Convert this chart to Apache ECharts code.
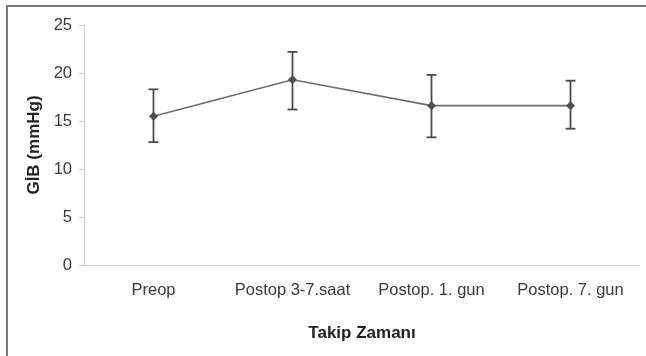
<!DOCTYPE html>
<html><head><meta charset="utf-8">
<script src="https://cdn.jsdelivr.net/npm/echarts@6/dist/echarts.min.js"></script>
<style>html,body{margin:0;padding:0;background:#fff}#c{width:646px;height:356px}</style>
</head><body><div id="c"></div>
<script>
var categories = ['Preop', 'Postop 3-7.saat', 'Postop. 1. gun', 'Postop. 7. gun'];
var means = [15.5, 19.3, 16.6, 16.6];
var upper = [18.3, 22.2, 19.8, 19.2];
var lower = [12.8, 16.2, 13.3, 14.2];
var yTicks = [0, 5, 10, 15, 20, 25];

var errData = categories.map(function (c, i) { return [i, lower[i], upper[i]]; });
var chart = echarts.init(document.getElementById('c'), null, {renderer: 'canvas'});
chart.setOption({
  animation: false,
  backgroundColor: '#fff',
  graphic: [{type: 'rect', shape: {x: 7, y: 6, width: 700, height: 400}, style: {fill: 'none', stroke: '#7a7a7a', lineWidth: 2}, z: 100}],
  grid: {left: 84, right: 6, top: 25, bottom: 91},
  xAxis: {
    type: 'category', data: categories, boundaryGap: true,
    axisLine: {lineStyle: {color: '#cfcfcf', width: 1}},
    axisTick: {show: false},
    axisLabel: {interval: 0, hideOverlap: false, color: '#3a3a3a', fontFamily: 'Liberation Sans, Arial', fontSize: 16.5, margin: 17},
    name: 'Takip Zamanı', nameLocation: 'middle', nameGap: 60,
    nameTextStyle: {color: '#222', fontWeight: 'bold', fontFamily: 'Liberation Sans, Arial', fontSize: 17}
  },
  yAxis: {
    type: 'value', min: yTicks[0], max: yTicks[yTicks.length - 1], interval: 5,
    axisLine: {show: true, lineStyle: {color: '#cfcfcf', width: 1}},
    axisTick: {show: true, length: 5, lineStyle: {color: '#cfcfcf'}},
    splitLine: {show: false},
    axisLabel: {color: '#3a3a3a', fontFamily: 'Liberation Sans, Arial', fontSize: 16.5, margin: 12},
    name: 'GİB (mmHg)', nameLocation: 'middle', nameGap: 41, nameRotate: 90,
    nameTextStyle: {color: '#222', fontWeight: 'bold', fontFamily: 'Liberation Sans, Arial', fontSize: 17}
  },
  series: [
    {
      type: 'custom', data: errData, z: 3,
      renderItem: function (params, api) {
        var x = api.value(0);
        var lo = api.coord([x, api.value(1)]);
        var hi = api.coord([x, api.value(2)]);
        var w = 5;
        var st = {stroke: '#4a4a4a', lineWidth: 1.8, fill: 'none'};
        return {type: 'group', children: [
          {type: 'line', shape: {x1: hi[0], y1: hi[1], x2: lo[0], y2: lo[1]}, style: st},
          {type: 'line', shape: {x1: hi[0] - w, y1: hi[1], x2: hi[0] + w, y2: hi[1]}, style: st},
          {type: 'line', shape: {x1: lo[0] - w, y1: lo[1], x2: lo[0] + w, y2: lo[1]}, style: st}
        ]};
      }
    },
    {
      type: 'line', data: means, z: 4,
      symbol: 'diamond', symbolSize: 9,
      lineStyle: {color: '#6e6e6e', width: 1.6},
      itemStyle: {color: '#4f4f4f'}
    }
  ]
});
</script></body></html>
